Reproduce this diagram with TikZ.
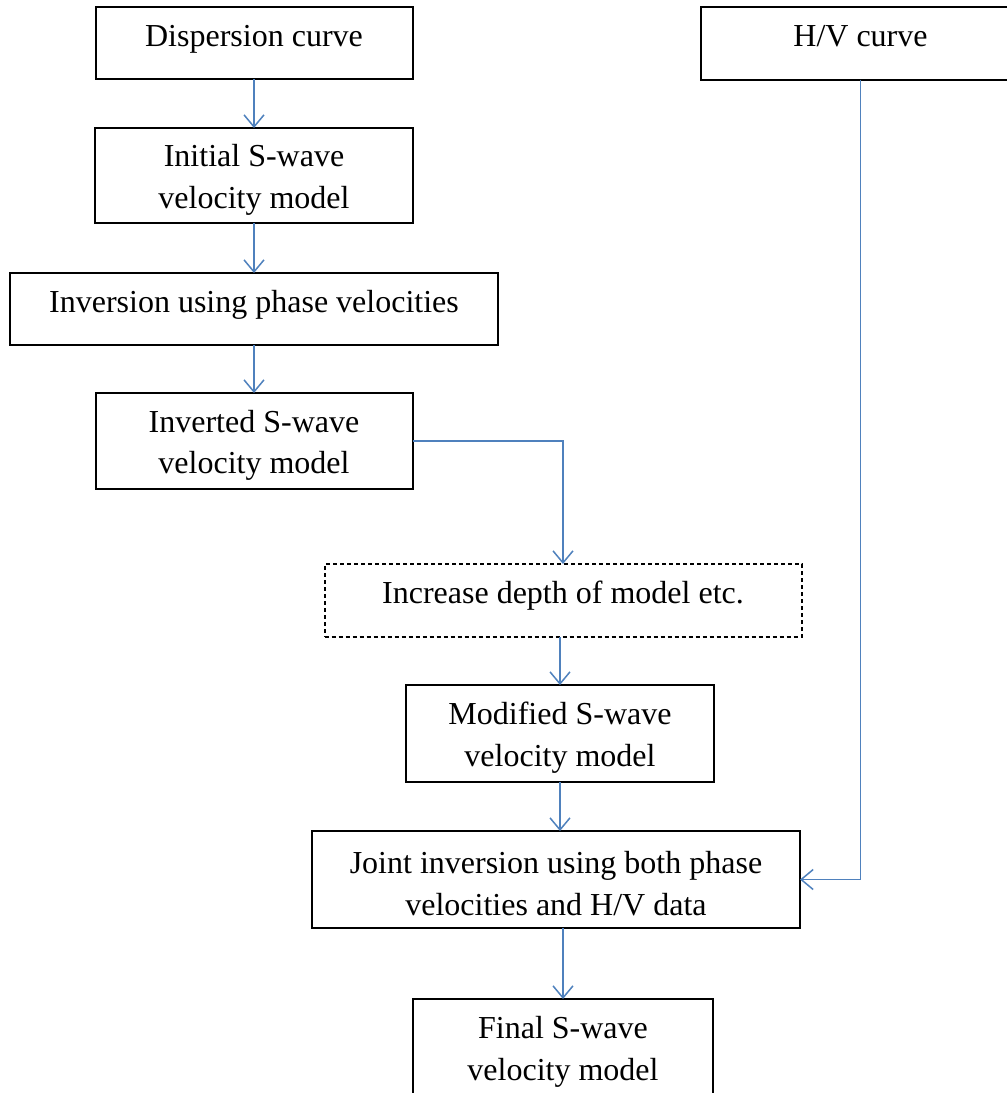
\documentclass[tikz,border=0pt]{standalone}
\usepackage{fontspec}
\setmainfont{Liberation Serif}
\usetikzlibrary{positioning,arrows.meta}
\definecolor{lineblue}{RGB}{79,129,189}
% extra height on the first of two lines, so the pair sits a bit low in its box
\newcommand{\topstrut}{\rule{0pt}{15.25pt}}

\begin{document}
\begin{tikzpicture}[
    node distance=24.5pt,
    stepbox/.style={rectangle, draw, line width=1pt, align=center, inner sep=0pt,
                    outer sep=0pt, font=\fontsize{16}{20.75}\selectfont},
    oneline/.style={text height=11pt, text depth=8pt},
    dashbox/.style={stepbox, oneline, dash pattern=on 2pt off 1.5pt},
    arrow/.style={-{Straight Barb[length=6pt,width=10pt]}, line width=0.75pt, lineblue}
]
\useasboundingbox (0,0) rectangle (503.5pt,-546.5pt);

%% -- Input data --------------------------------------------------
\node[stepbox, oneline, minimum width=158.5pt, minimum height=36pt] (disp) at (127pt,-21.5pt)
    {Dispersion curve};
\node[stepbox, oneline, minimum width=160pt, minimum height=36.5pt, right=144pt of disp] (hv)
    {H/V curve};

%% -- Inversion chain ---------------------------------------------
\node[stepbox, below=of disp, minimum width=159pt, minimum height=47.5pt] (init)
    {\topstrut Initial S-wave\\velocity model};
\node[stepbox, oneline, below=25pt of init, minimum width=244pt, minimum height=36pt] (inv)
    {Inversion using phase velocities};
\node[stepbox, below=24pt of inv, minimum width=158.5pt, minimum height=48pt] (invd)
    {\topstrut Inverted S-wave\\velocity model};

\node[dashbox, below=37.5pt of invd, xshift=154.5pt, minimum width=238.5pt,
      minimum height=36.5pt] (incr) {Increase depth of model etc.};
\node[stepbox, below=24pt of incr, xshift=-1.5pt, minimum width=154pt,
      minimum height=48.5pt] (mod) {\topstrut Modified S-wave\\velocity model};
\node[stepbox, below=of mod, xshift=-2pt, minimum width=244pt,
      minimum height=48.5pt] (joint) {\topstrut Joint inversion using both phase\\velocities and H/V data};
\node[stepbox, below=35.5pt of joint, xshift=3.5pt, minimum width=150pt,
      minimum height=48.5pt] (final) {\topstrut Final S-wave\\velocity model};

%% -- Arrows ------------------------------------------------------
\draw[arrow] (disp)  -- (init);
\draw[arrow] (init)  -- (inv);
\draw[arrow] (inv)   -- (invd);
\draw[arrow] (invd.east) -| (incr.north);
\draw[arrow] (incr.south -| mod.north) -- (mod.north);
\draw[arrow] (mod.south) -- (mod.south |- joint.north);
\draw[arrow] (final.north |- joint.south) -- (final.north);
\draw[arrow] (hv.south) |- (joint.east);
\end{tikzpicture}
\end{document}
